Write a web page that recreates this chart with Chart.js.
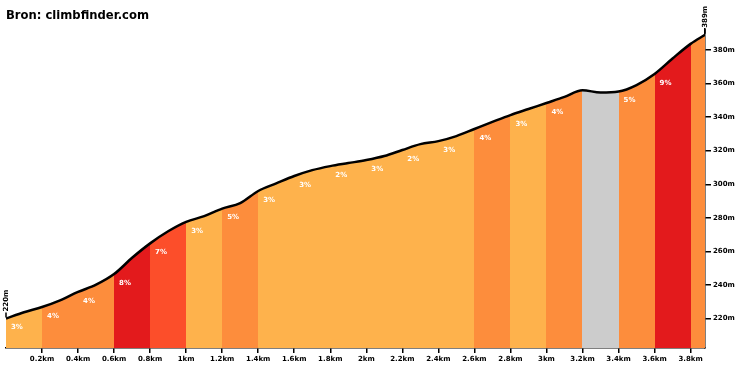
<!DOCTYPE html>
<html>
<head>
<meta charset="utf-8">
<script src="https://cdn.jsdelivr.net/npm/chart.js@4/dist/chart.umd.min.js"></script>
<style>
  html, body { margin: 0; padding: 0; background: #fff; }
  #wrap { width: 740px; height: 370px; position: relative; }
</style>
</head>
<body>
<div id="wrap"><canvas id="c" width="740" height="370"></canvas></div>
<script>
// ---- data ----
const titleText = 'Bron: climbfinder.com';
const distances = [0,0.1,0.2,0.3,0.4,0.5,0.6,0.7,0.8,0.9,1.0,1.1,1.2,1.3,1.4,1.5,1.6,1.7,1.8,1.9,2.0,2.1,2.2,2.3,2.4,2.5,2.6,2.7,2.8,2.9,3.0,3.1,3.2,3.3,3.4,3.5,3.6,3.7,3.8,3.88];
const elevations = [220,223.8,226.9,230.9,235.9,240.2,246.5,256.2,264.8,272.0,277.6,281.0,285.5,288.8,296.0,300.5,304.9,308.4,310.8,312.6,314.4,316.8,320.4,323.9,325.7,328.7,332.9,337.1,341.2,344.8,348.4,352.0,356.0,354.6,355.2,359.1,365.7,374.9,383.6,389];
const segmentStarts = [0,0.2,0.4,0.6,0.8,1.0,1.2,1.4,1.6,1.8,2.0,2.2,2.4,2.6,2.8,3.0,3.2,3.4,3.6,3.8];
const grades = [3,4,4,8,7,3,5,3,3,2,3,2,3,4,3,4,0,5,9,5];
const xTickValues = [0.2,0.4,0.6,0.8,1.0,1.2,1.4,1.6,1.8,2.0,2.2,2.4,2.6,2.8,3.0,3.2,3.4,3.6,3.8];
const yTickValues = [220,240,260,280,300,320,340,360,380];

const totalDist = distances[distances.length - 1];
const FONT = 'DejaVu Sans, Verdana, sans-serif';

function colorFor(g) {
  if (g < 1) return '#cccccc';
  if (g < 4) return '#feb24c';
  if (g < 6) return '#fd8d3c';
  if (g < 8) return '#fc4e2a';
  return '#e31a1c';
}
function elevAt(d) {
  for (let i = 0; i < distances.length; i++) {
    if (Math.abs(distances[i] - d) < 1e-6) return elevations[i];
  }
  return null;
}
function fmtKm(v) {
  return (Math.round(v * 10) / 10).toString() + 'km';
}

const points = distances.map((d, i) => ({ x: d, y: elevations[i] }));

// fills each gradient band under the profile curve (no seams between bands)
const bandFillPlugin = {
  id: 'bandFill',
  beforeDatasetsDraw(chart) {
    const { ctx, chartArea: area, scales: { x } } = chart;
    const meta = chart.getDatasetMeta(0);
    const line = meta.dataset;
    if (!line || !line.points || !line.points.length) return;
    line.updateControlPoints(area, 'x');
    const pts = line.points;
    const n = pts.length;
    for (let i = 0; i < segmentStarts.length; i++) {
      const s = segmentStarts[i];
      const e = i + 1 < segmentStarts.length ? segmentStarts[i + 1] : totalDist;
      const x0 = Math.round(x.getPixelForValue(s));
      const x1 = Math.round(x.getPixelForValue(e));
      ctx.save();
      ctx.beginPath();
      ctx.rect(Math.max(x0, area.left), area.top, Math.min(x1, area.right) - Math.max(x0, area.left), area.bottom - area.top);
      ctx.clip();
      ctx.beginPath();
      line.pathSegment(ctx, { start: 0, end: n - 1, loop: false }, { move: true });
      ctx.lineTo(pts[n - 1].x, area.bottom + 2);
      ctx.lineTo(pts[0].x, area.bottom + 2);
      ctx.closePath();
      ctx.fillStyle = colorFor(grades[i]);
      ctx.fill();
      ctx.restore();
    }
  }
};

const labelsPlugin = {
  id: 'gradeLabels',
  afterDatasetsDraw(chart) {
    const { ctx, scales: { x, y } } = chart;
    ctx.save();
    ctx.font = 'bold 7px ' + FONT;
    ctx.fillStyle = '#ffffff';
    ctx.textAlign = 'left';
    ctx.textBaseline = 'middle';
    for (let i = 0; i < segmentStarts.length; i++) {
      const s = segmentStarts[i];
      const e = i + 1 < segmentStarts.length ? segmentStarts[i + 1] : totalDist;
      if (e - s < 0.199 || grades[i] <= 0) continue;
      const ev = elevAt(s);
      const px = x.getPixelForValue(s) + 5;
      const py = y.getPixelForValue(ev) + 9;
      ctx.fillText(grades[i] + '%', px, py);
    }
    // start / end elevation markers
    ctx.fillStyle = '#000';
    ctx.strokeStyle = '#000';
    ctx.lineWidth = 1.5;
    ctx.font = 'bold 7px ' + FONT;
    const marks = [
      { d: distances[0], e: elevations[0] },
      { d: totalDist, e: elevations[elevations.length - 1] }
    ];
    marks.forEach(m => {
      const px = x.getPixelForValue(m.d);
      const py = y.getPixelForValue(m.e);
      ctx.beginPath();
      ctx.moveTo(px, py - 1);
      ctx.lineTo(px, py - 6);
      ctx.stroke();
      ctx.save();
      ctx.translate(px, py - 7);
      ctx.rotate(-Math.PI / 2);
      ctx.textAlign = 'left';
      ctx.textBaseline = 'middle';
      ctx.fillText(Math.round(m.e) + 'm', 0, 0);
      ctx.restore();
    });
    ctx.restore();
  }
};

new Chart(document.getElementById('c'), {
  type: 'line',
  data: {
    datasets: [{
      data: points,
      borderColor: '#000',
      borderWidth: 2.5,
      pointRadius: 0,
      cubicInterpolationMode: 'monotone',
      fill: false
    }]
  },
  options: {
    responsive: false,
    animation: false,
    devicePixelRatio: 1,
    layout: { padding: { left: 6, right: 0, top: 0, bottom: 0 } },
    plugins: {
      legend: { display: false },
      tooltip: { enabled: false },
      title: {
        display: true,
        text: titleText,
        align: 'start',
        color: '#000',
        font: { family: FONT, size: 11.6, weight: 'bold' },
        padding: { top: 9, bottom: 6 }
      }
    },
    scales: {
      x: {
        type: 'linear',
        min: 0,
        max: totalDist,
        afterBuildTicks: s => { s.ticks = xTickValues.map(v => ({ value: v })); },
        afterFit: s => { s.height = 22; },
        grid: { drawOnChartArea: false, drawTicks: true, tickLength: 5, color: '#000', lineWidth: 1.5 },
        border: { display: true, color: '#000', width: 1.5 },
        ticks: {
          color: '#000',
          font: { family: FONT, size: 7, weight: 'bold' },
          padding: 2,
          maxRotation: 0,
          autoSkip: false,
          callback: v => fmtKm(v)
        }
      },
      y: {
        type: 'linear',
        position: 'right',
        min: 202.5,
        max: 392.5,
        afterBuildTicks: s => { s.ticks = yTickValues.map(v => ({ value: v })); },
        afterFit: s => { s.width = 35; },
        grid: { drawOnChartArea: false, drawTicks: true, tickLength: 6, color: '#000', lineWidth: 1.5 },
        border: { display: true, color: '#000', width: 1.5 },
        ticks: {
          color: '#000',
          font: { family: FONT, size: 7, weight: 'bold' },
          padding: 2,
          autoSkip: false,
          callback: v => v + 'm'
        }
      }
    }
  },
  plugins: [bandFillPlugin, labelsPlugin]
});
</script>
</body>
</html>
